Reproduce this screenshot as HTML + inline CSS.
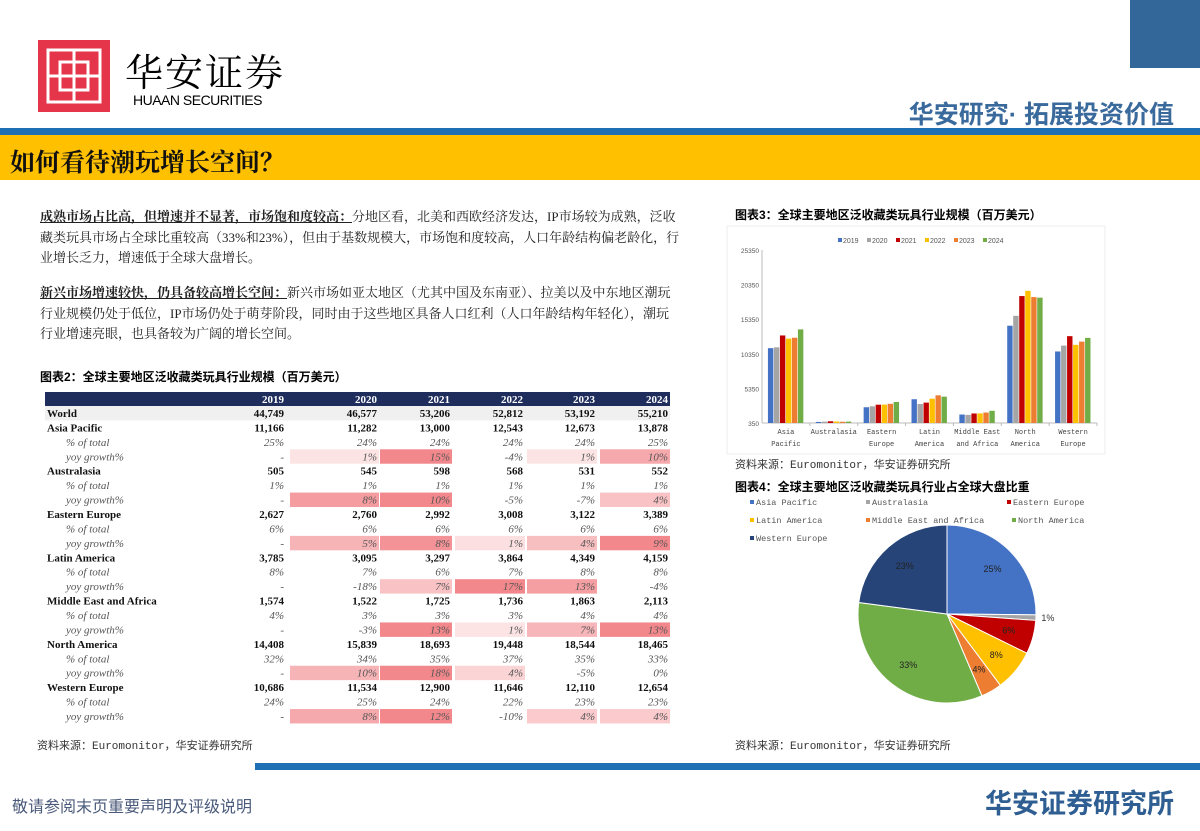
<!DOCTYPE html>
<html><head><meta charset="utf-8">
<style>
body{margin:0;width:1200px;height:831px;position:relative;background:#fff;overflow:hidden;font-family:"Liberation Sans","Noto Sans CJK SC",sans-serif}
.abs{position:absolute}
.p{position:absolute;left:40px;width:640px;font-size:13px;line-height:20.5px;color:#222;font-family:"Liberation Serif","Noto Serif CJK SC",serif}
.ttl{position:absolute;font-size:12px;font-weight:bold;color:#000;font-family:"Liberation Sans","Noto Sans CJK SC",sans-serif}
.src{position:absolute;font-size:11px;color:#333;font-family:"Liberation Mono","Noto Sans CJK SC",monospace}
</style></head><body>
<div class="abs" style="left:38px;top:40px;width:72px;height:72px;background:#e5354a">
<svg width="72" height="72"><g fill="none" stroke="#fff" stroke-width="3"><rect x="10" y="10" width="52" height="52"/><path d="M36 10V62M10 36H62M22 22H50V50H22Z"/></g></svg></div>
<div class="abs" style="left:125px;top:42px;font-size:38px;font-family:'Noto Serif CJK SC',serif;letter-spacing:2px">华安证券</div>
<div class="abs" style="left:133px;top:92px;font-size:14px;letter-spacing:-0.5px">HUAAN SECURITIES</div>
<div class="abs" style="left:1130px;top:0;width:70px;height:68px;background:#336699"></div>
<div class="abs" style="right:26px;top:95px;font-size:25px;font-weight:bold;color:#3a6a9c">华安研究· 拓展投资价值</div>
<div class="abs" style="left:0;top:128px;width:1200px;height:7px;background:#1f6fb5"></div>
<div class="abs" style="left:0;top:135px;width:1200px;height:45px;background:#ffc000"></div>
<div class="abs" style="left:10px;top:143px;font-size:25px;font-weight:bold;color:#111;font-family:'Noto Serif CJK SC',serif">如何看待潮玩增长空间？</div>

<div class="p" style="top:207px"><b><u>成熟市场占比高，但增速并不显著，市场饱和度较高：</u></b>分地区看，北美和西欧经济发达，IP市场较为成熟，泛收藏类玩具市场占全球比重较高（33%和23%），但由于基数规模大，市场饱和度较高，人口年龄结构偏老龄化，行业增长乏力，增速低于全球大盘增长。</div>
<div class="p" style="top:283px"><b><u>新兴市场增速较快，仍具备较高增长空间：</u></b>新兴市场如亚太地区（尤其中国及东南亚）、拉美以及中东地区潮玩行业规模仍处于低位，IP市场仍处于萌芽阶段，同时由于这些地区具备人口红利（人口年龄结构年轻化），潮玩行业增速亮眼，也具备较为广阔的增长空间。</div>

<div class="ttl" style="left:40px;top:368px">图表2：全球主要地区泛收藏类玩具行业规模（百万美元）</div>
<svg class="abs" style="left:0;top:0" width="700" height="760" id="tbl"></svg>
<div class="src" style="left:37px;top:737px">资料来源：Euromonitor，华安证券研究所</div>

<div class="ttl" style="left:735px;top:206px">图表3：全球主要地区泛收藏类玩具行业规模（百万美元）</div>
<svg class="abs" style="left:0;top:0" width="1200" height="831" id="bar"></svg>
<div class="src" style="left:735px;top:456px">资料来源：Euromonitor，华安证券研究所</div>
<div class="ttl" style="left:735px;top:478px">图表4：全球主要地区泛收藏类玩具行业占全球大盘比重</div>
<svg class="abs" style="left:0;top:0" width="1200" height="831" id="pie"></svg>
<div class="src" style="left:735px;top:737px">资料来源：Euromonitor，华安证券研究所</div>

<div class="abs" style="left:255px;top:763px;width:945px;height:7px;background:#1f6fb5"></div>
<div class="abs" style="left:12px;top:793px;font-size:16px;color:#4a5a7a">敬请参阅末页重要声明及评级说明</div>
<div class="abs" style="right:26px;top:782px;font-size:27px;font-weight:bold;color:#2f5f92">华安证券研究所</div>

<script>
const NS='http://www.w3.org/2000/svg';
function mk(p,t,a){const e=document.createElementNS(NS,t);for(const k in a)e.setAttribute(k,a[k]);p.appendChild(e);return e;}
// ---- data ----
const years=['2019','2020','2021','2022','2023','2024'];
const regions=['Asia Pacific','Australasia','Eastern Europe','Latin America','Middle East and Africa','North America','Western Europe'];
const worldVals=[44749,46577,53206,52812,53192,55210];
const sizeAP=[11166,11282,13000,12543,12673,13878];
const sizeAU=[505,545,598,568,531,552];
const sizeEE=[2627,2760,2992,3008,3122,3389];
const sizeLA=[3785,3095,3297,3864,4349,4159];
const sizeME=[1574,1522,1725,1736,1863,2113];
const sizeNA=[14408,15839,18693,19448,18544,18465];
const sizeWE=[10686,11534,12900,11646,12110,12654];
const shareAP=[25,24,24,24,24,25],shareAU=[1,1,1,1,1,1],shareEE=[6,6,6,6,6,6],shareLA=[8,7,6,7,8,8],shareME=[4,3,3,3,4,4],shareNA=[32,34,35,37,35,33],shareWE=[24,25,24,22,23,23];
const yoyAP=[null,1,15,-4,1,10],yoyAU=[null,8,10,-5,-7,4],yoyEE=[null,5,8,1,4,9],yoyLA=[null,-18,7,17,13,-4],yoyME=[null,-3,13,1,7,13],yoyNA=[null,10,18,4,-5,0],yoyWE=[null,8,12,-10,4,4];
const pieShares=[25.1,1.0,6.1,7.5,3.8,33.4,22.9];
const yTicks=[350,5350,10350,15350,20350,25350];
const seriesColors=['#4472c4','#a5a5a5','#c00000','#ffc000','#ed7d31','#70ad47'];
const pieColors=['#4472c4','#a5a5a5','#c00000','#ffc000','#ed7d31','#70ad47','#264478'];
const sizes=[sizeAP,sizeAU,sizeEE,sizeLA,sizeME,sizeNA,sizeWE];
const shares=[shareAP,shareAU,shareEE,shareLA,shareME,shareNA,shareWE];
const yoys=[yoyAP,yoyAU,yoyEE,yoyLA,yoyME,yoyNA,yoyWE];
const fmt=v=>v.toLocaleString('en-US');

// ---- table ----
const T=document.getElementById('tbl');
const colR=[286,379,452,525,597,670];
const colL=[240,290,380,455,527,600];
const hdr=mk(T,'rect',{x:45,y:392,width:625,height:14,fill:'#1f2d5c'});


years.forEach((y,i)=>{const t=mk(T,'text',{x:colR[i]-2,y:403,'text-anchor':'end',fill:'#fff','font-size':11,'font-weight':'bold','font-family':'Liberation Serif'});t.textContent=y;});
const rowH=14.43;let ry=406;
function row(label,vals,kind){
  const g=mk(T,'g',{});
  
  
  if(label==='World')mk(g,'rect',{x:45,y:ry,width:625,height:rowH,fill:'#f0f0f0'});
  if(kind==='yoy'){const mx=Math.max(...vals.filter(v=>v!==null));
    vals.forEach((v,i)=>{if(v===null)return;let a=0;if(v>0)a=0.12+0.6*v/mx;
      if(a>0)mk(g,'rect',{x:colL[i],y:ry,width:colR[i]-colL[i],height:rowH,fill:'#ee5a60','fill-opacity':a});});}
  const bold=kind==='size';
  const lt=mk(g,'text',{x:bold?47:66,y:ry+11,'font-size':11,'font-family':'Liberation Serif',fill:bold?'#111':'#555','font-weight':bold?'bold':'normal','font-style':bold?'normal':'italic'});
  lt.textContent=label;
  vals.forEach((v,i)=>{const t=mk(g,'text',{x:colR[i]-2,y:ry+11,'text-anchor':'end','font-size':11,'font-family':'Liberation Serif',fill:bold?'#111':'#555','font-weight':bold?'bold':'normal','font-style':bold?'normal':'italic'});
    t.textContent=v===null?'-':(kind==='size'?fmt(v):v+'%');});
  ry+=rowH;
}
row('World',worldVals,'size');
regions.forEach((r,k)=>{row(r,sizes[k],'size');row('% of total',shares[k],'pct');row('yoy growth%',yoys[k],'yoy');});

// ---- bar chart ----
const B=document.getElementById('bar');
mk(B,'rect',{x:727,y:226,width:378,height:228,fill:'none',stroke:'#eeeeee'});
const x0=762,x1=1097,yb=423,yt=250;
const yS=v=>yb-(v-350)/25000*(yb-yt);
mk(B,'line',{x1:x0,y1:yt,x2:x0,y2:yb,stroke:'#bbb'});
mk(B,'line',{x1:x0,y1:yb,x2:x1,y2:yb,stroke:'#bbb'});
yTicks.forEach(t=>{const e=mk(B,'text',{x:x0-3,y:yS(t)+3,'text-anchor':'end','font-size':6.5,fill:'#555'});e.textContent=t;});
const cw=(x1-x0)/regions.length,bw=6;
regions.forEach((r,c)=>{
  mk(B,'line',{x1:x0+cw*(c+1),y1:yb,x2:x0+cw*(c+1),y2:yb+3,stroke:'#bbb'});
  years.forEach((y,s)=>{const v=sizes[c][s];const bx=x0+cw*c+cw/2-bw*3+s*bw;
    const b=mk(B,'rect',{x:bx,y:yS(v),width:bw-0.6,height:yb-yS(v),fill:seriesColors[s]});
    
    });
  const parts=r==='Middle East and Africa'?['Middle East','and Africa']:r==='Australasia'?['Australasia']:r.split(' ');
  parts.forEach((p,j)=>{const e=mk(B,'text',{x:x0+cw*c+cw/2,y:yb+11+j*12,'text-anchor':'middle','font-size':7,'font-family':'Liberation Mono',fill:'#444'});e.textContent=p;});
});
years.forEach((y,s)=>{const lx=838+s*29;
  const g=mk(B,'g',{});
  
  
  mk(g,'rect',{x:lx,y:238,width:4,height:4,fill:seriesColors[s]});
  const e=mk(g,'text',{x:lx+5,y:243,'font-size':7,fill:'#555'});e.textContent=y;});

// ---- pie ----
const P=document.getElementById('pie');
const cx=947,cy=614,R=89;
const tot=pieShares.reduce((a,b)=>a+b,0);let ang=-Math.PI/2;
pieShares.forEach((v,i)=>{const a2=ang+v/tot*2*Math.PI;
  const p=mk(P,'path',{d:`M${cx},${cy}L${cx+R*Math.cos(ang)},${cy+R*Math.sin(ang)}A${R},${R} 0 ${a2-ang>Math.PI?1:0} 1 ${cx+R*Math.cos(a2)},${cy+R*Math.sin(a2)}Z`,fill:pieColors[i],stroke:'#fff','stroke-width':1});
  
  
  const m=(ang+a2)/2;const rr=v<2?R+12:R*0.72;
  const t=mk(P,'text',{x:cx+rr*Math.cos(m),y:cy+rr*Math.sin(m)+3,'text-anchor':'middle','font-size':9,fill:v<2?'#333':'#222'});
  t.textContent=Math.round(v)+'%';
  ang=a2;});
const legPos=[[750,505],[866,505],[1007,505],[750,523],[866,523],[1012,523],[750,541]];
regions.forEach((r,i)=>{const g=mk(P,'g',{});
  
  
  mk(g,'rect',{x:legPos[i][0],y:legPos[i][1]-5,width:4,height:4,fill:pieColors[i]});
  const t=mk(g,'text',{x:legPos[i][0]+6,y:legPos[i][1],'font-size':8.5,'font-family':'Liberation Mono',fill:'#555'});t.textContent=r;});
</script>
</body></html>
